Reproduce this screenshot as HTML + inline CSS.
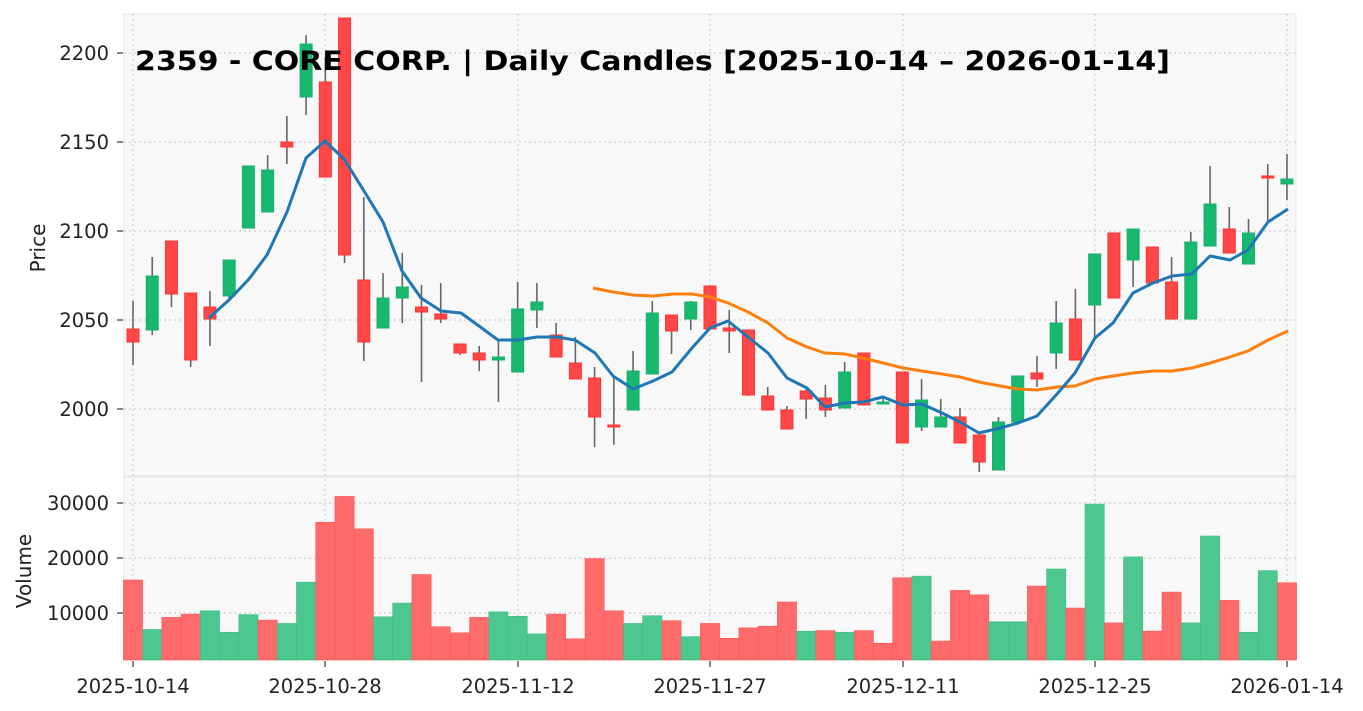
<!DOCTYPE html>
<html><head><meta charset="utf-8"><style>
body{margin:0;background:#fff;}
svg{display:block;font-family:"DejaVu Sans","Liberation Sans",sans-serif;}
</style></head><body>
<svg id="s" width="1363" height="711" viewBox="0 0 1363 711" xmlns="http://www.w3.org/2000/svg">
<rect x="124" y="14" width="1172" height="462" fill="#f8f8f8" stroke="#e6e6e6"/>
<rect x="124" y="477" width="1172" height="183" fill="#f8f8f8" stroke="#e6e6e6"/>
<g stroke="#cfcfcf" stroke-width="1.2" stroke-dasharray="2,3" id="grid">
<line x1="124" x2="1296" y1="53" y2="53"/><line x1="124" x2="1296" y1="142" y2="142"/>
<line x1="124" x2="1296" y1="231" y2="231"/><line x1="124" x2="1296" y1="320" y2="320"/>
<line x1="124" x2="1296" y1="409" y2="409"/>
<line x1="124" x2="1296" y1="503" y2="503"/><line x1="124" x2="1296" y1="558" y2="558"/>
<line x1="124" x2="1296" y1="613" y2="613"/>
<line x1="133" x2="133" y1="14" y2="660"/><line x1="325" x2="325" y1="14" y2="660"/>
<line x1="518" x2="518" y1="14" y2="660"/><line x1="710" x2="710" y1="14" y2="660"/>
<line x1="903" x2="903" y1="14" y2="660"/><line x1="1095" x2="1095" y1="14" y2="660"/>
<line x1="1287" x2="1287" y1="14" y2="660"/>
</g>
<g stroke="#333" stroke-width="1.2">
<line x1="117" x2="123" y1="53" y2="53"/><line x1="117" x2="123" y1="142" y2="142"/>
<line x1="117" x2="123" y1="231" y2="231"/><line x1="117" x2="123" y1="320" y2="320"/>
<line x1="117" x2="123" y1="409" y2="409"/>
<line x1="117" x2="123" y1="503" y2="503"/><line x1="117" x2="123" y1="558" y2="558"/>
<line x1="117" x2="123" y1="613" y2="613"/>
<line x1="133" x2="133" y1="661" y2="667"/><line x1="325" x2="325" y1="661" y2="667"/>
<line x1="518" x2="518" y1="661" y2="667"/><line x1="710" x2="710" y1="661" y2="667"/>
<line x1="903" x2="903" y1="661" y2="667"/><line x1="1095" x2="1095" y1="661" y2="667"/>
<line x1="1287" x2="1287" y1="661" y2="667"/>
</g>
<g id="vol"></g>
<g id="cdl"></g>
<polyline fill="none" stroke="#ff7f0e" stroke-width="3" stroke-linejoin="round" points="593,288 613,292 633,295 653,296 673,294 692,294 710,297 728,303 748,312 768,323 787,338 807,347 825,353 845,354 863,358 883,363 903,368 922,371 942,374 960,377 979,382 1000,386 1018,389 1037,390 1057,387 1075,386 1095,379 1113,376 1133,373 1153,371 1172,371 1192,368 1210,363 1230,357 1248,351 1268,340 1288,331"/>
<polyline fill="none" stroke="#1f77b4" stroke-width="3" stroke-linejoin="round" points="209,318 230,299 249,279 267,255 287,212 306,158 325,141 344,159 364,191 383,222 402,271 421,298 441,311 461,313 479,326 498,340 518,340 537,337 557,337 575,340 595,353 613,376 633,389 653,381 672,372 692,348 710,328 728,321 748,337 768,353 787,378 807,388 825,407 845,403 863,402 883,397 903,405 922,404 942,413 960,422 979,433 1000,428 1018,423 1037,416 1057,394 1075,373 1095,338 1113,323 1133,293 1153,283 1172,276 1192,274 1210,256 1230,260 1248,250 1268,222 1288,209"/>
<text x="135" y="70" font-size="27" font-weight="bold" fill="#000" textLength="1035" lengthAdjust="spacingAndGlyphs">2359 - CORE CORP. | Daily Candles [2025-10-14 – 2026-01-14]</text>
<g font-size="19.5" fill="#222" text-anchor="end">
<text x="109" y="60">2200</text><text x="109" y="149">2150</text><text x="109" y="238">2100</text>
<text x="109" y="327">2050</text><text x="109" y="416">2000</text>
<text x="109" y="510">30000</text><text x="109" y="565">20000</text><text x="109" y="620">10000</text>
</g>
<g font-size="19.5" fill="#222" text-anchor="middle">
<text x="133" y="693">2025-10-14</text><text x="325" y="693">2025-10-28</text><text x="518" y="693">2025-11-12</text>
<text x="710" y="693">2025-11-27</text><text x="903" y="693">2025-12-11</text><text x="1095" y="693">2025-12-25</text>
<text x="1287" y="693">2026-01-14</text>
<text transform="translate(45,248) rotate(-90)" font-size="20">Price</text>
<text transform="translate(31,571) rotate(-90)" font-size="20">Volume</text>
</g>
</svg>
<script>
var C=[["r",329,342,301,365],["g",276,330,257,335],["r",241,294,241,307],["r",293,360,293,367],["r",307,319,291,346],["g",260,296,260,300],["g",166,228,166,228],["g",170,212,155,212],["r",142,147,116,164],["g",44,97,35,115],["r",82,177,57,177],["r",18,255,18,263],["r",280,342,197,361],["g",298,328,273,328],["g",287,298,253,323],["r",307,312,285,382],["r",314,319,283,323],["r",344,353,344,355],["r",353,360,346,371],["g",357,360,340,402],["g",309,372,282,372],["g",302,310,283,328],["r",335,357,323,357],["r",363,379,337,379],["r",378,417,367,447],["r",425,426,378,445],["g",371,410,351,410],["g",313,374,301,374],["r",315,331,315,354],["g",302,319,301,330],["r",286,329,286,329],["r",328,331,310,353],["r",330,395,330,396],["r",396,410,387,410],["r",410,429,406,429],["r",391,399,388,419],["r",398,410,385,417],["g",372,408,362,408],["r",353,405,353,405],["g",402,404,398,404],["r",372,443,372,443],["g",400,427,379,431],["g",417,427,399,427],["r",417,443,408,443],["r",435,462,435,472],["g",422,470,417,470],["g",376,422,376,422],["r",373,379,356,387],["g",323,353,301,369],["r",319,360,289,360],["g",254,305,254,338],["r",233,298,233,298],["g",229,260,229,287],["r",247,283,247,283],["r",282,319,257,319],["g",242,319,232,319],["g",204,246,166,246],["r",229,253,207,253],["g",233,264,219,264],["r",176,177,164,222],["g",179,184,154,200]];
var V=[16000,7000,9200,9800,10400,6500,9700,8700,8100,15600,26500,31200,25300,9300,11800,17000,7500,6400,9200,10200,9400,6200,9800,5300,19900,10400,8100,9500,8600,5700,8100,5400,7300,7600,12000,6700,6800,6500,6800,4500,16400,16700,4900,14100,13300,8400,8400,14900,18000,10900,29800,8200,20200,6700,13800,8200,24000,12300,6500,17700,15500];
var VC=["r","g","r","r","g","g","g","r","g","g","r","r","r","g","g","r","r","r","r","g","g","g","r","r","r","r","g","g","r","g","r","r","r","r","r","g","r","g","r","r","r","g","r","r","r","g","g","r","g","r","g","r","g","r","r","g","g","r","g","g","r"];
var ns="http://www.w3.org/2000/svg",cg=document.getElementById("cdl"),vg=document.getElementById("vol");
function el(p,t,a){var e=document.createElementNS(ns,t);for(var k in a)e.setAttribute(k,a[k]);p.appendChild(e);}
for(var i=0;i<61;i++){var x=133+19.233*i,c=C[i];
var vy=668-V[i]*0.0055;el(vg,"rect",{x:x-9.6,y:vy,width:19.2,height:660-vy,fill:VC[i]=="r"?"#ff6b6b":"#4cc790",stroke:VC[i]=="r"?"#f55":"#3bbd82","stroke-width":0.6});
el(cg,"line",{x1:x,x2:x,y1:c[3],y2:c[4],stroke:"#666","stroke-width":1.6});
var h=Math.max(c[2]-c[1],2);el(cg,"rect",{x:x-6,y:c[1],width:12,height:h,fill:c[0]=="r"?"#ff4747":"#18b86e",stroke:c[0]=="r"?"#f33":"#14b06a","stroke-width":1});}
</script>
</body></html>
